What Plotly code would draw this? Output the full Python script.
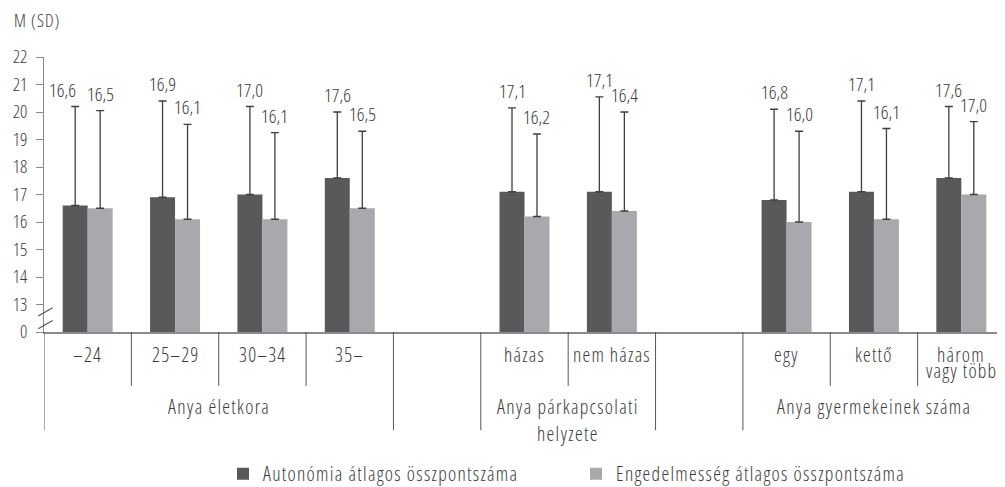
import plotly.graph_objects as go

# Kategóriák (üres helyek a csoportok között)
kategoriak = ["–24", "25–29", "30–34", "35–", "", "házas", "nem házas", "", "egy", "kettő", "három<br>vagy több"]
csoportok = ["Anya életkora", "Anya párkapcsolati<br>helyzete", "Anya gyermekeinek száma"]
csoport_kozep = [1.5, 5.5, 9.0]

# Átlagok és szórások (None = üres hely)
autonomia = [16.6, 16.9, 17.0, 17.6, None, 17.1, 17.1, None, 16.8, 17.1, 17.6]
autonomia_sd = [3.6, 3.5, 3.2, 2.4, None, 3.05, 3.45, None, 3.3, 3.3, 2.6]
engedelmesseg = [16.5, 16.1, 16.1, 16.5, None, 16.2, 16.4, None, 16.0, 16.1, 17.0]
engedelmesseg_sd = [3.55, 3.45, 3.15, 2.8, None, 3.0, 3.6, None, 3.3, 3.3, 2.65]

tick_ertekek = list(range(12, 23))
tick_cimkek = ["0"] + [str(v) for v in range(13, 23)]

FONT = "Open Sans"
SOTET = "#58595b"
VILAGOS = "#a7a9ac"
TEXT = "#3a3a3a"
VONAL = "#8a8a8a"

OFF = 0.143
BW = 0.286

# a böngésző 8 px-es body margója miatt a figura kicsit kisebb
W, H = 997, 479


def betu(size=19.5):
    return dict(family=FONT, size=size, color=TEXT, weight=300)


def sz(t, ritkit=0):
    # keskenyített betűk, opcionális betűközzel
    stilus = "font-stretch:87.5%"
    if ritkit:
        stilus += f";letter-spacing:{ritkit}px"
    return f'<span style="{stilus}">{t}</span>'


def fmt(v):
    return f"{v:.1f}".replace(".", ",")


fig = go.Figure()

for nev, ertekek, sd, szin, eltolas in [
    ("Autonómia átlagos összpontszáma", autonomia, autonomia_sd, SOTET, -OFF),
    ("Engedelmesség átlagos összpontszáma", engedelmesseg, engedelmesseg_sd, VILAGOS, OFF),
]:
    xs = [i + eltolas for i, v in enumerate(ertekek) if v is not None]
    ys = [v for v in ertekek if v is not None]
    es = [s for s in sd if s is not None]
    fig.add_trace(go.Bar(
        name=sz(nev, 1.3), x=xs, y=ys, width=BW, marker_color=szin, marker_line_width=0,
        error_y=dict(type="data", symmetric=False, array=es, arrayminus=[0] * len(es),
                     color="#3f3f3f", thickness=1.3, width=4),
    ))
    # értékcímkék a hibasávok fölött
    for j, (x, y, e) in enumerate(zip(xs, ys, es)):
        balra = eltolas < 0 and j == 0
        fig.add_annotation(x=x, y=y + e, xref="x", yref="y", text=sz(fmt(y)), showarrow=False,
                           xanchor="right" if balra else "center", yanchor="bottom",
                           xshift=3 if balra else 0, yshift=2, font=betu(19))

# osztóvonalak a tengely alatt
hosszu = [-0.5, 3.5, 4.5, 6.5, 7.5]
rovid = [0.5, 1.5, 2.5, 5.5, 8.5, 9.5]
for x in hosszu:
    fig.add_shape(type="line", xref="x", yref="paper", x0=x, x1=x, y0=0, y1=-0.357,
                  line=dict(color="#555", width=1))
for x in rovid:
    fig.add_shape(type="line", xref="x", yref="paper", x0=x, x1=x, y0=0, y1=-0.196,
                  line=dict(color="#555", width=1))

# tengelytörés jele
for y0 in [0.012, 0.058]:
    fig.add_shape(type="line", xref="paper", yref="paper", x0=-0.006, x1=0.009,
                  y0=y0, y1=y0 + 0.03, line=dict(color="#555", width=1.2))

# kategória feliratok (soronként)
for i, k in enumerate(kategoriak):
    for r, sor in enumerate(k.split("<br>") if k else []):
        fig.add_annotation(x=i, y=0, xref="x", yref="paper", text=sz(sor, 1.2), showarrow=False,
                           yanchor="middle", yshift=-22 - 16 * r, font=betu())

for x, k in zip(csoport_kozep, csoportok):
    for r, sor in enumerate(k.split("<br>")):
        fig.add_annotation(x=x, y=0, xref="x", yref="paper", text=sz(sor, 1.3), showarrow=False,
                           yanchor="middle", yshift=-74 - 27 * r, font=betu())

fig.add_annotation(x=(12 - 44) / 961, y=(332 - 20) / 275, xref="paper", yref="paper",
                   text=sz("M (SD)", 1), showarrow=False, xanchor="left", yanchor="middle",
                   font=betu(17.5))

fig.update_layout(
    width=W, height=H,
    margin=dict(l=36, r=0, t=49, b=155),
    paper_bgcolor="white", plot_bgcolor="white",
    barmode="overlay", showlegend=True,
    font=betu(),
    xaxis=dict(range=[-0.5, 10.5], showticklabels=False, ticks="", showgrid=False,
               zeroline=False, showline=True, linecolor=VONAL, linewidth=1.5, automargin=False),
    yaxis=dict(range=[12, 22], tickvals=tick_ertekek, ticktext=[sz(t) for t in tick_cimkek],
               ticks="outside", ticklen=7, tickcolor=VONAL, showgrid=False, zeroline=False,
               showline=True, linecolor=VONAL, linewidth=1.2, tickfont=betu(18),
               ticklabelstandoff=5, automargin=False),
    legend=dict(orientation="h", xref="container", yref="container", x=215 / W, xanchor="left",
                y=1 - 466 / H, yanchor="middle", entrywidth=308, entrywidthmode="pixels",
                itemwidth=30, font=betu()),
)

fig.write_html("out.html")
